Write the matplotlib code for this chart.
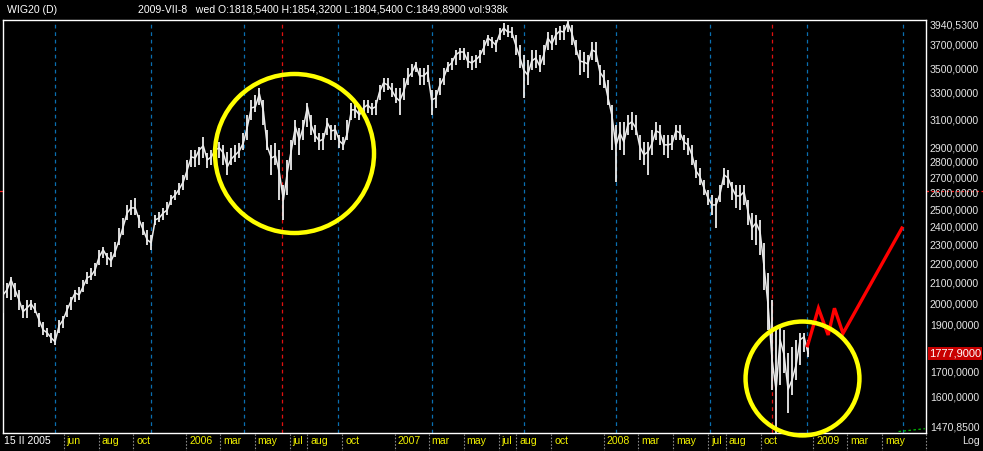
import numpy as np
import pandas as pd
import matplotlib
matplotlib.use("Agg")
import matplotlib.pyplot as plt
import matplotlib.transforms as mtransforms
from matplotlib import ticker

# ---------------- data ----------------
title_left = "WIG20 (D)"
title_right = "2009-VII-8   wed O:1818,5400 H:1854,3200 L:1804,5400 C:1849,8900 vol:938k"

start_date = "2005-02-15"   # weekly samples from this date
close_values = [
    2044, 2069, 2119, 2069, 2020, 1964, 1982, 2001, 1973, 1926,
    1881, 1868, 1846, 1828, 1899, 1926, 1973, 2015, 2054, 2044,
    2084, 2129, 2139, 2170, 2238, 2276, 2238, 2217, 2265, 2331,
    2404, 2485, 2515, 2515, 2444, 2387, 2331, 2314, 2444, 2456,
    2485, 2503, 2570, 2594, 2631, 2676, 2754, 2840, 2833, 2888,
    2916, 2820, 2840, 2888, 2902, 2867, 2774, 2827, 2854, 2881,
    2936, 3051, 3192, 3200, 3300, 3169, 2909, 2833, 2847, 2734,
    2564, 2741, 2888, 3051, 2957, 3051, 3200, 3058, 2986, 2950,
    2964, 3080, 3022, 3029, 2950, 2923, 3008, 3177, 3177, 3139,
    3192, 3215, 3185, 3200, 3316, 3388, 3372, 3332, 3276, 3245,
    3316, 3428, 3469, 3536, 3445, 3445, 3477, 3253, 3268, 3364,
    3428, 3519, 3553, 3621, 3647, 3647, 3569, 3553, 3578, 3613,
    3682, 3771, 3744, 3709, 3807, 3861, 3825, 3825, 3709, 3604,
    3494, 3453, 3569, 3595, 3527, 3621, 3771, 3718, 3798, 3834,
    3825, 3908, 3816, 3682, 3569, 3561, 3544, 3665, 3647, 3477,
    3428, 3276, 3139, 2916, 3008, 2943, 3066, 3088, 3043, 2909,
    2854, 2874, 2930, 3022, 3008, 2923, 2923, 2930, 3022, 3008,
    2943, 2923, 2854, 2747, 2708, 2638, 2576, 2533, 2533, 2600,
    2721, 2702, 2638, 2588, 2588, 2613, 2491, 2398, 2427, 2376,
    2186, 1996, 1751, 1631, 1837, 1772, 1631, 1670, 1730, 1837,
    1850, 1777.9,
]
high_values = [
    2094, 2104, 2134, 2104, 2069, 1997, 2020, 2020, 2006, 1959,
    1917, 1890, 1868, 1881, 1926, 1945, 1997, 2035, 2069, 2084,
    2119, 2160, 2180, 2206, 2276, 2292, 2260, 2265, 2320, 2398,
    2456, 2533, 2564, 2576, 2474, 2433, 2387, 2359, 2474, 2491,
    2515, 2552, 2594, 2625, 2670, 2721, 2820, 2888, 2888, 2909,
    2979, 2867, 2888, 2957, 2943, 2923, 2874, 2902, 2923, 2936,
    3007, 3139, 3253, 3292, 3348, 3253, 3029, 2923, 2936, 2888,
    2657, 2820, 2957, 3102, 3044, 3102, 3230, 3139, 3066, 3007,
    3007, 3117, 3066, 3066, 2993, 2979, 3102, 3230, 3230, 3215,
    3253, 3253, 3230, 3253, 3372, 3428, 3428, 3388, 3348, 3348,
    3428, 3511, 3544, 3561, 3511, 3511, 3536, 3332, 3332, 3428,
    3511, 3561, 3595, 3665, 3682, 3682, 3647, 3613, 3621, 3665,
    3753, 3798, 3780, 3753, 3861, 3908, 3889, 3871, 3798, 3709,
    3621, 3578, 3665, 3665, 3621, 3709, 3825, 3798, 3861, 3880,
    3889, 3940.53, 3889, 3753, 3665, 3647, 3621, 3735, 3735, 3536,
    3494, 3412, 3215, 3066, 3088, 3088, 3139, 3162, 3139, 2993,
    2943, 2943, 3029, 3088, 3066, 2993, 2993, 2993, 3066, 3066,
    2993, 2971, 2923, 2820, 2767, 2689, 2625, 2594, 2576, 2657,
    2767, 2754, 2676, 2657, 2657, 2657, 2564, 2485, 2474, 2444,
    2314, 2155, 2020, 1881, 1894, 1881, 1781, 1807, 1837, 1868,
    1868, 1837,
]
low_values = [
    1959, 2030, 2020, 2035, 1973, 1935, 1935, 1973, 1959, 1894,
    1859, 1850, 1824, 1815, 1868, 1890, 1940, 1973, 2011, 2020,
    2059, 2099, 2119, 2139, 2196, 2233, 2196, 2186, 2238, 2303,
    2359, 2444, 2474, 2474, 2398, 2359, 2303, 2276, 2415, 2433,
    2444, 2474, 2533, 2564, 2594, 2625, 2689, 2774, 2774, 2787,
    2833, 2767, 2787, 2840, 2833, 2787, 2721, 2787, 2807, 2833,
    2888, 2957, 3102, 3162, 3215, 3066, 2888, 2721, 2787, 2564,
    2444, 2594, 2754, 2923, 2854, 2957, 3051, 2993, 2943, 2888,
    2888, 2993, 2957, 2957, 2902, 2888, 2957, 3102, 3117, 3102,
    3139, 3154, 3139, 3139, 3253, 3316, 3332, 3276, 3230, 3139,
    3253, 3372, 3436, 3477, 3372, 3372, 3396, 3139, 3192, 3292,
    3372, 3477, 3494, 3536, 3578, 3578, 3511, 3494, 3511, 3553,
    3621, 3700, 3682, 3647, 3753, 3798, 3780, 3771, 3621, 3511,
    3268, 3372, 3494, 3511, 3477, 3536, 3665, 3665, 3709, 3753,
    3753, 3825, 3709, 3621, 3453, 3477, 3428, 3578, 3561, 3372,
    3348, 3215, 2888, 2676, 2888, 2854, 2993, 3029, 2993, 2820,
    2787, 2721, 2854, 2957, 2923, 2854, 2833, 2888, 2957, 2957,
    2888, 2854, 2787, 2702, 2657, 2594, 2533, 2474, 2398, 2552,
    2657, 2638, 2564, 2515, 2503, 2533, 2415, 2331, 2303, 2249,
    2069, 1881, 1631, 1470.85, 1650, 1698, 1544, 1611, 1670, 1730,
    1786, 1764,
]
last_close = 1777.90

forecast_dates = ["2008-12-22", "2009-01-10", "2009-01-27", "2009-02-07", "2009-02-22", "2009-06-05"]
forecast_values = [1811, 1980, 1858, 1980, 1865, 2397]

indicator_dates = ["2009-05-30", "2009-07-15"]
indicator_values = [1476, 1486]

cycle_lines = ["2005-05-17", "2005-11-01", "2006-04-13", "2006-09-24", "2007-03-06",
               "2007-08-15", "2008-01-23", "2008-07-04", "2008-12-21", "2009-06-06"]
event_lines = ["2006-06-17", "2008-10-21"]

circle_dates = ["2006-07-09", "2008-12-12"]
circle_values = [2864, 1675]
circle_sizes = [114.5, 82]

month_ticks = ["2005-06-01", "2005-08-01", "2005-10-01", "2006-01-01", "2006-03-01", "2006-05-01",
               "2006-07-01", "2006-08-01", "2006-10-01", "2007-01-01", "2007-03-01", "2007-05-01",
               "2007-07-01", "2007-08-01", "2007-10-01", "2008-01-01", "2008-03-01", "2008-05-01",
               "2008-07-01", "2008-08-01", "2008-10-01", "2009-01-01", "2009-03-01", "2009-05-01"]
month_labels = ["jun", "aug", "oct", "2006", "mar", "may", "jul", "aug", "oct", "2007", "mar", "may",
                "jul", "aug", "oct", "2008", "mar", "may", "jul", "aug", "oct", "2009", "mar", "may"]
first_label = "15 II 2005"

y_min, y_max = 1470.85, 3940.53
y_ticks = [3700, 3500, 3300, 3100, 2900, 2800, 2700, 2600, 2500, 2400, 2300, 2200, 2100, 2000, 1900, 1700, 1600]
marker_level = 2620
x_end = "2009-07-17"

# ---------------- figure ----------------
FONT = "Liberation Sans"
FS = 7.6
W, H = 983, 451
fig = plt.figure(figsize=(W / 100, H / 100), dpi=100, facecolor="black")
ax = fig.add_axes([3 / W, 18 / H, 923 / W, 413.5 / H], facecolor="black")

dates = pd.date_range(start_date, periods=len(close_values), freq="7D")
ax.set_yscale("log")
ax.set_ylim(y_min, y_max)
ax.set_xlim(pd.Timestamp(start_date), pd.Timestamp(x_end))
ax.yaxis.set_major_locator(ticker.NullLocator())
ax.yaxis.set_minor_locator(ticker.NullLocator())
ax.xaxis.set_major_locator(ticker.NullLocator())
ax.xaxis.set_minor_locator(ticker.NullLocator())
for s in ax.spines.values():
    s.set_color("white")
    s.set_linewidth(1.0)

# vertical cycle lines
for d in cycle_lines:
    ax.axvline(pd.Timestamp(d), color="#0a6fb0", lw=0.9, ls=(0, (3, 3)), zorder=1)
for d in event_lines:
    ax.axvline(pd.Timestamp(d), color="#e01010", lw=0.9, ls=(0, (3, 3)), zorder=1)

# price: weekly high-low bars + close line
price_col = "#ececec"
ax.vlines(dates, low_values, high_values, color=price_col, lw=1.3, zorder=3)
ax.plot(dates, close_values, color=price_col, lw=1.1, zorder=3)

# forecast
ax.plot(pd.to_datetime(forecast_dates), forecast_values, color="#ff0000", lw=2.4, zorder=4,
        solid_joinstyle="miter")

# indicator
ax.plot(pd.to_datetime(indicator_dates), indicator_values, color="#00c000", lw=0.9,
        ls=(0, (2, 2)), zorder=2)

# circles
for d, v, s in zip(circle_dates, circle_values, circle_sizes):
    ax.plot([pd.Timestamp(d)], [v], marker="o", ms=s, mfc="none", mec="#ffff00", mew=3.2,
            zorder=5, clip_on=False)

# y labels on right
ytrans = ax.get_yaxis_transform()
lab_off = mtransforms.offset_copy(ytrans, fig=fig, x=4, y=0, units="dots")
for v in y_ticks:
    ax.text(1.0, v, f"{v:.4f}".replace(".", ","), transform=lab_off, ha="left", va="center",
            color="#e6e6e6", fontsize=FS, family=FONT, clip_on=False)
ax.text(1.0, y_max, f"{y_max:.4f}".replace(".", ","),
        transform=mtransforms.offset_copy(ytrans, fig=fig, x=4, y=-0.5, units="dots"),
        ha="left", va="top", color="#e6e6e6", fontsize=FS, family=FONT)
ax.text(1.0, y_min, f"{y_min:.4f}".replace(".", ","),
        transform=mtransforms.offset_copy(ytrans, fig=fig, x=4, y=0, units="dots"),
        ha="left", va="bottom", color="#e6e6e6", fontsize=FS, family=FONT)
# last price box
ax.text(1.0, last_close, f"{last_close:.4f}".replace(".", ","),
        transform=mtransforms.offset_copy(ytrans, fig=fig, x=3, y=0, units="dots"),
        ha="left", va="center", color="white", fontsize=FS + 0.4, family=FONT, zorder=10,
        bbox=dict(boxstyle="square,pad=0.12", fc="#c80000", ec="none"))
# red marker level on the scale
ax.plot([1.0, 1.07], [marker_level, marker_level], transform=ytrans, color="#ff2020", lw=0.9,
        ls=(0, (2, 2)), clip_on=False)
ax.plot([-0.004, 0.0], [marker_level, marker_level], transform=ytrans, color="#ff2020", lw=0.9,
        clip_on=False)

# x labels
xtrans = ax.get_xaxis_transform()
xoff = mtransforms.offset_copy(xtrans, fig=fig, x=3, y=0, units="dots")
for d, lab in zip(month_ticks, month_labels):
    t = pd.Timestamp(d)
    ax.plot([t, t], [-0.045, -0.002], transform=xtrans, color="#8a8a8a", lw=0.8,
            ls=(0, (1.5, 1.5)), clip_on=False)
    ax.text(t, -0.02, lab, transform=xoff, ha="left", va="center", color="#f0f000",
            fontsize=FS, family=FONT)
ax.plot([1.0, 1.0], [-0.045, -0.002], transform=ax.transAxes, color="#8a8a8a", lw=0.8,
        ls=(0, (1.5, 1.5)), clip_on=False)
ax.text(pd.Timestamp(start_date), -0.02, first_label,
        transform=mtransforms.offset_copy(xtrans, fig=fig, x=1, y=0, units="dots"),
        ha="left", va="center", color="white", fontsize=FS, family=FONT)
fig.text(962 / W, 1 - 441 / H, "Log", ha="left", va="center", color="#e6e6e6", fontsize=FS, family=FONT)

# header
fig.text(7 / W, 1 - 10 / H, title_left, ha="left", va="center", color="white", fontsize=FS, family=FONT)
fig.text(138 / W, 1 - 10 / H, title_right, ha="left", va="center", color="white", fontsize=FS, family=FONT)

fig.savefig("out.png", dpi=100, facecolor="black")
